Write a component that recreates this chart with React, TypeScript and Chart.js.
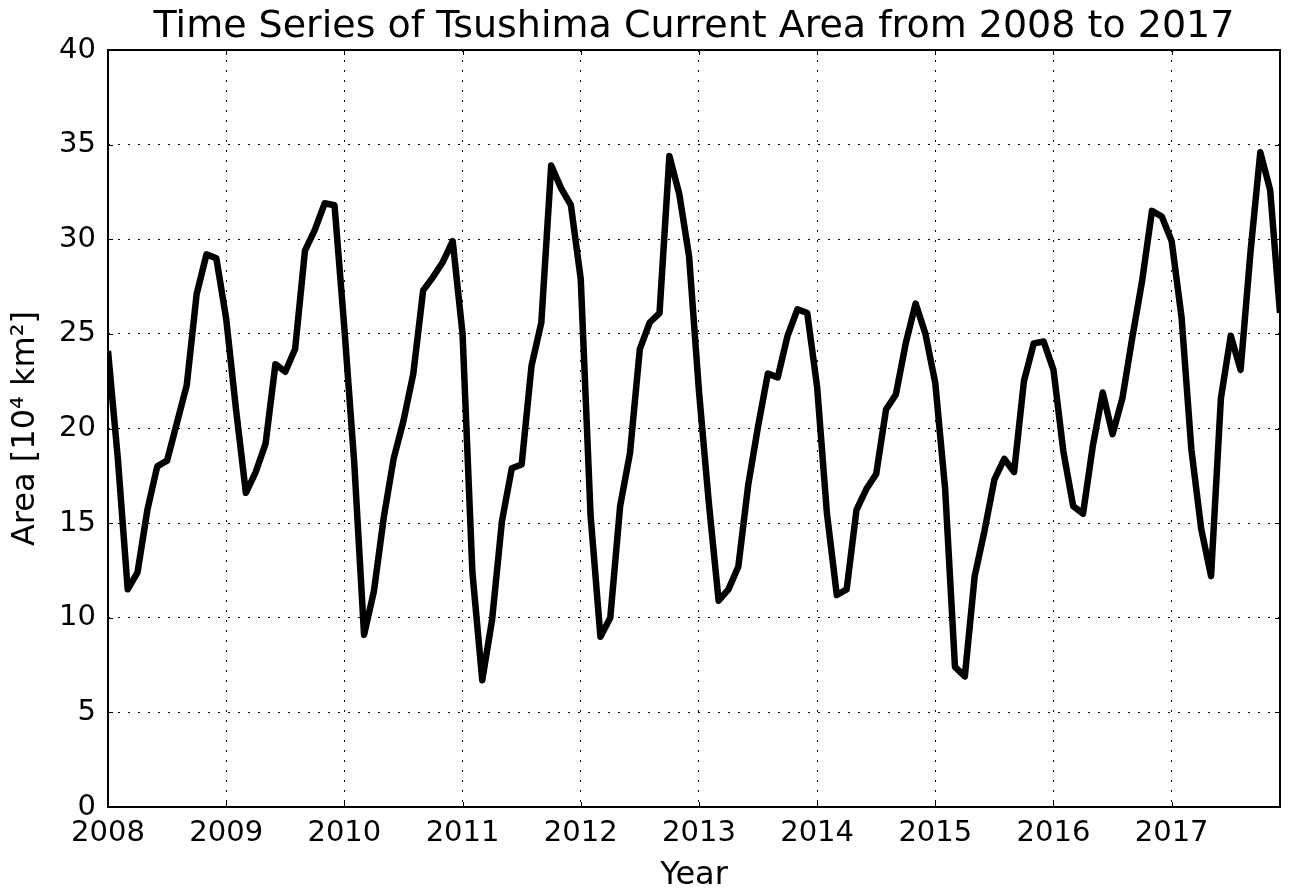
import React, { useEffect, useRef } from 'react';
import { Chart, registerables } from 'chart.js';

Chart.register(...registerables);

// ---- Data (monthly area, 10^4 km^2) ----
const years = [2008, 2009, 2010, 2011, 2012, 2013, 2014, 2015, 2016, 2017];
const area2008 = [24.1, 18.4, 11.5, 12.4, 15.7, 18.0, 18.3, 20.3, 22.3, 27.1, 29.2, 29.0];
const area2009 = [25.8, 21.0, 16.6, 17.7, 19.2, 23.4, 23.0, 24.2, 29.4, 30.5, 31.9, 31.8];
const area2010 = [25.3, 18.2, 9.1, 11.4, 15.3, 18.4, 20.4, 22.9, 27.3, 28.0, 28.8, 29.9];
const area2011 = [25.0, 12.4, 6.7, 9.9, 15.1, 17.9, 18.1, 23.3, 25.6, 33.9, 32.7, 31.8];
const area2012 = [27.9, 15.4, 9.0, 10.0, 15.9, 18.7, 24.2, 25.6, 26.1, 34.4, 32.4, 29.1];
const area2013 = [22.0, 16.1, 10.9, 11.5, 12.7, 17.0, 20.1, 22.9, 22.7, 24.9, 26.3, 26.1];
const area2014 = [22.2, 15.5, 11.2, 11.5, 15.7, 16.8, 17.6, 21.0, 21.8, 24.5, 26.6, 25.0];
const area2015 = [22.4, 16.8, 7.4, 6.9, 12.2, 14.6, 17.3, 18.4, 17.7, 22.5, 24.5, 24.6];
const area2016 = [23.1, 18.8, 15.9, 15.5, 19.1, 21.9, 19.7, 21.6, 24.8, 27.8, 31.5, 31.2];
const area2017 = [29.9, 25.9, 18.9, 14.7, 12.2, 21.6, 24.9, 23.1, 29.3, 34.6, 32.6, 26.1];
const areaByYear = [area2008, area2009, area2010, area2011, area2012, area2013, area2014, area2015, area2016, area2017];

const yTickValues = [0, 5, 10, 15, 20, 25, 30, 35, 40];
const xTickValues = years;

const TITLE = 'Time Series of Tsushima Current Area from 2008 to 2017';
const X_LABEL = 'Year';
const Y_LABEL = 'Area [10\u2074 km\u00B2]';

const FONT = 'DejaVu Sans';

const points = years.flatMap((yr, i) =>
  areaByYear[i].map((v, m) => ({ x: yr + m / 12, y: v }))
);

// Title centred over the plot area (as matplotlib does)
const titlePlugin = {
  id: 'axesTitle',
  afterDraw(chart: any) {
    const { ctx, chartArea } = chart;
    ctx.save();
    ctx.fillStyle = '#000';
    ctx.font = `normal 38px "${FONT}"`;
    ctx.textAlign = 'center';
    ctx.textBaseline = 'middle';
    ctx.fillText(TITLE, (chartArea.left + chartArea.right) / 2, 27);
    ctx.restore();
  },
};

const framePlugin = {
  id: 'frameTicks',
  afterDatasetsDraw(chart: any) {
    const { ctx, chartArea } = chart;
    const { left, right, top, bottom } = chartArea;
    const xs = chart.scales.x;
    const ys = chart.scales.y;
    ctx.save();
    ctx.strokeStyle = '#000';
    ctx.lineWidth = 1;
    const tl = 5;
    ctx.beginPath();
    xTickValues.forEach((v) => {
      const px = Math.round(xs.getPixelForValue(v)) + 0.5;
      ctx.moveTo(px, bottom);
      ctx.lineTo(px, bottom - tl);
      ctx.moveTo(px, top);
      ctx.lineTo(px, top + tl);
    });
    yTickValues.forEach((v) => {
      const py = Math.round(ys.getPixelForValue(v)) + 0.5;
      ctx.moveTo(left, py);
      ctx.lineTo(left + tl, py);
      ctx.moveTo(right, py);
      ctx.lineTo(right - tl, py);
    });
    ctx.stroke();
    ctx.lineWidth = 2;
    ctx.strokeRect(left, top, right - left, bottom - top);
    ctx.restore();
  },
};

export default function App() {
  const ref = useRef<HTMLCanvasElement | null>(null);

  useEffect(() => {
    if (!ref.current) return;
    const chart = new Chart(ref.current, {
      type: 'line',
      data: {
        datasets: [
          {
            data: points,
            borderColor: '#000',
            borderWidth: 6.5,
            pointRadius: 0,
            tension: 0,
            fill: false,
            borderJoinStyle: 'round',
            borderCapStyle: 'butt',
            clip: 0,
          } as any,
        ],
      },
      options: {
        responsive: false,
        animation: false,
        devicePixelRatio: 1,
        layout: { padding: { left: 0, right: 10, top: 50, bottom: 0 } },
        plugins: {
          legend: { display: false },
          tooltip: { enabled: false },
          title: { display: false },
        },
        scales: {
          x: {
            type: 'linear',
            min: years[0],
            max: years[0] + (points.length - 1) / 12,
            afterFit: (s: any) => {
              s.height = 85;
            },
            afterBuildTicks: (s: any) => {
              s.ticks = xTickValues.map((v) => ({ value: v }));
            },
            ticks: {
              autoSkip: false,
              maxRotation: 0,
              color: '#000',
              font: { family: FONT, size: 29 },
              padding: 9,
              callback: (v: any) => String(v),
            },
            grid: { color: '#000', lineWidth: 1, drawTicks: false },
            border: { display: false, dash: [2, 8] },
            title: {
              display: true,
              text: X_LABEL,
              color: '#000',
              font: { family: FONT, size: 32, lineHeight: 1 },
              padding: { top: 0, bottom: 0 },
            },
          },
          y: {
            type: 'linear',
            min: 0,
            max: 40,
            afterFit: (s: any) => {
              s.width = 108;
            },
            afterBuildTicks: (s: any) => {
              s.ticks = yTickValues.map((v) => ({ value: v }));
            },
            ticks: {
              color: '#000',
              font: { family: FONT, size: 29 },
              padding: 12,
              callback: (v: any) => String(v),
            },
            grid: { color: '#000', lineWidth: 1, drawTicks: false },
            border: { display: false, dash: [2, 8] },
            title: {
              display: true,
              text: Y_LABEL,
              color: '#000',
              font: { family: FONT, size: 32, lineHeight: 1 },
              padding: { top: 10, bottom: 0 },
            },
          },
        },
      },
      plugins: [framePlugin, titlePlugin],
    });
    return () => chart.destroy();
  }, []);

  return (
    <div style={{ position: 'absolute', left: 0, top: 0, width: 1290, height: 892, background: '#fff' }}>
      <canvas ref={ref} width={1290} height={892} style={{ display: 'block' }} />
    </div>
  );
}
